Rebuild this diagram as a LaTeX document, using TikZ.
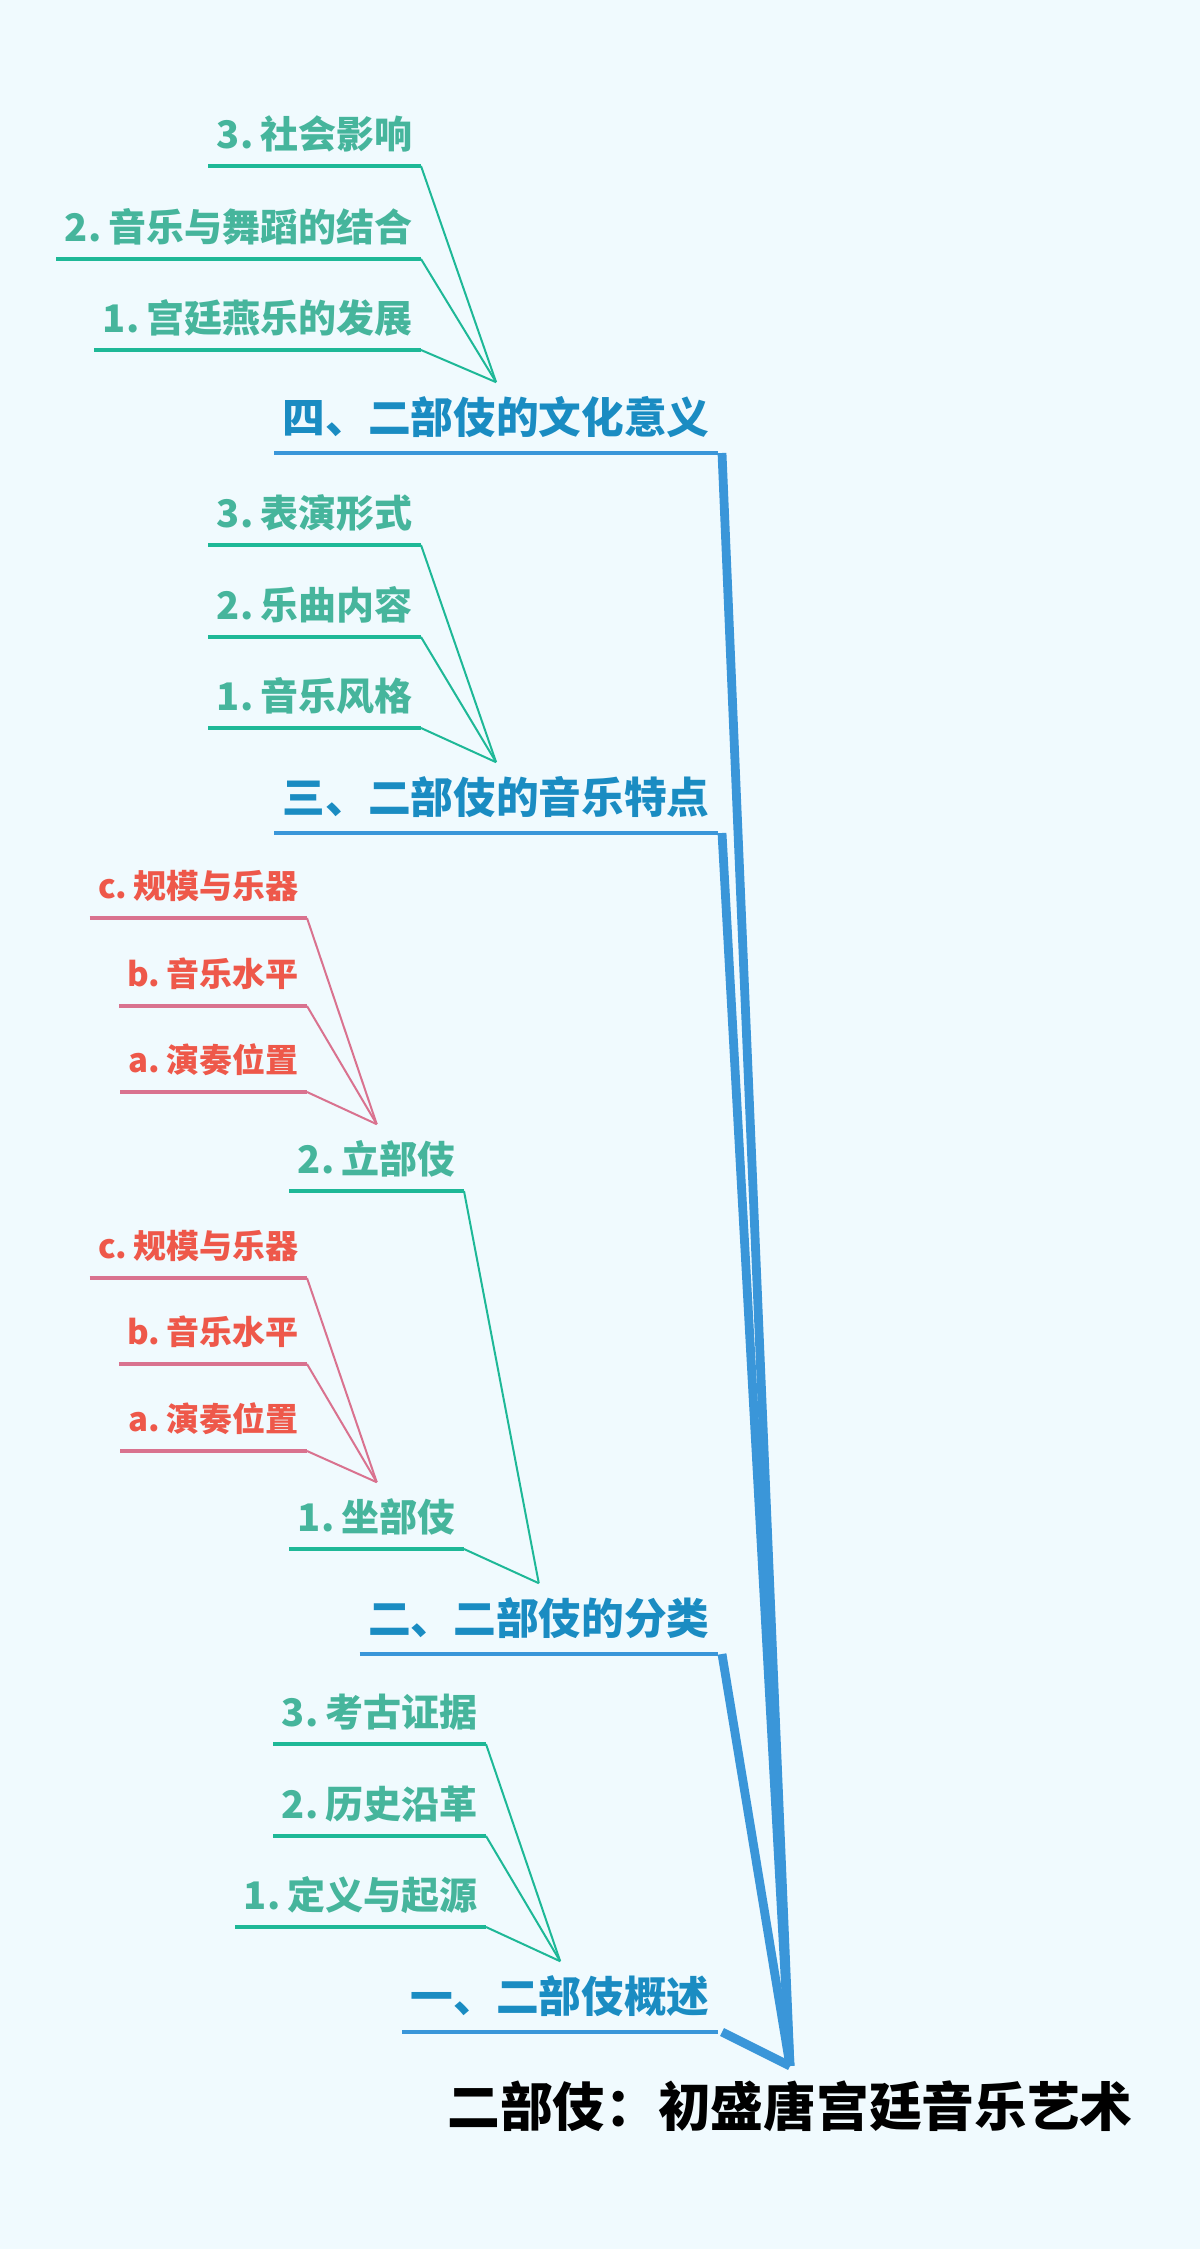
\documentclass[tikz,border=0pt]{standalone}
\usepackage{fontspec}
\setmainfont{Noto Sans CJK SC}[WordSpace=0.5]
\newfontfamily\heavycjk{Noto Sans CJK SC Black}
\definecolor{bgblue}{HTML}{F0FAFE}
\definecolor{topblue}{HTML}{1A8CC2}
\definecolor{lineblue}{HTML}{3A96D9}
\definecolor{subtext}{HTML}{46B59C}
\definecolor{subline}{HTML}{1EB897}
\definecolor{leaftext}{HTML}{EE584A}
\definecolor{leafline}{HTML}{D9728F}
\begin{document}
\begin{tikzpicture}[x=0.5pt,y=0.5pt]
    \tikzstyle{every node}+=[inner xsep=4pt, text depth=0pt, anchor=south east]
    \tikzstyle{lvlone}=[text=topblue, font=\bfseries\fontsize{21.35pt}{25pt}\selectfont, text height=16pt, inner ysep=9.5pt]
    \tikzstyle{lvltwo}=[text=subtext, font=\bfseries\fontsize{19pt}{23pt}\selectfont, text height=15.5pt, inner ysep=8.75pt]
    \tikzstyle{lvlthree}=[text=leaftext, font=\bfseries\fontsize{16.5pt}{20pt}\selectfont, text height=13pt, inner ysep=9.5pt]
    \tikzstyle{bluebar}=[lineblue, line width=2.2pt]
    \tikzstyle{trunk}=[lineblue, line width=4.4pt]
    \tikzstyle{subbar}=[subline, line width=2.2pt]
    \tikzstyle{sublink}=[subline, line width=1pt]
    \tikzstyle{leafbar}=[leafline, line width=2.2pt]
    \tikzstyle{leaflink}=[leafline, line width=1pt]
    \fill [bgblue] (0,0) rectangle (1200,-2249);
    \useasboundingbox (0,0) rectangle (1200,-2249);
    % root
    \node [anchor=north, inner ysep=9pt, text height=21pt, font=\heavycjk\fontsize{26.35pt}{30pt}\selectfont] (root) at (790,-2066) {二部伎：初盛唐宫廷音乐艺术};
    % main branches
    \node [lvlone] (l4) at (718,-453) {四、二部伎的文化意义};
    \node [lvlone] (l3) at (718,-833) {三、二部伎的音乐特点};
    \node [lvlone] (l2) at (718,-1654) {二、二部伎的分类};
    \node [lvlone] (l1) at (718,-2032) {一、二部伎概述};
    % sub branches
    \node [lvltwo] (s43) at (421,-166) {3. 社会影响};
    \node [lvltwo] (s42) at (421,-259) {2. 音乐与舞蹈的结合};
    \node [lvltwo] (s41) at (421,-350) {1. 宫廷燕乐的发展};
    \node [lvltwo] (s33) at (421,-545) {3. 表演形式};
    \node [lvltwo] (s32) at (421,-637) {2. 乐曲内容};
    \node [lvltwo] (s31) at (421,-728) {1. 音乐风格};
    \node [lvltwo] (s22) at (464,-1191) {2. 立部伎};
    \node [lvltwo] (s21) at (464,-1549) {1. 坐部伎};
    \node [lvltwo] (s13) at (486,-1744) {3. 考古证据};
    \node [lvltwo] (s12) at (486,-1836) {2. 历史沿革};
    \node [lvltwo] (s11) at (486,-1927) {1. 定义与起源};
    % leaves
    \node [lvlthree] (t2c) at (307,-918) {c. 规模与乐器};
    \node [lvlthree] (t2b) at (307,-1006) {b. 音乐水平};
    \node [lvlthree] (t2a) at (307,-1092) {a. 演奏位置};
    \node [lvlthree] (t1c) at (307,-1278) {c. 规模与乐器};
    \node [lvlthree] (t1b) at (307,-1364) {b. 音乐水平};
    \node [lvlthree] (t1a) at (307,-1451) {a. 演奏位置};
    % trunks
    \foreach \n in {l4,l3,l2,l1}
        \draw [trunk] ([xshift=2pt]\n.south east) -- (root.north);
    \foreach \n in {l4,l3,l2,l1}
        \draw [bluebar] (\n.south west) -- (\n.south east);
    % sub links
    \foreach \n in {s43,s42,s41}
        \draw [sublink] (\n.south east) -- (l4.north);
    \foreach \n in {s33,s32,s31}
        \draw [sublink] (\n.south east) -- (l3.north);
    \foreach \n in {s22,s21}
        \draw [sublink] (\n.south east) -- (l2.north);
    \foreach \n in {s13,s12,s11}
        \draw [sublink] (\n.south east) -- (l1.north);
    \foreach \n in {s43,s42,s41,s33,s32,s31,s22,s21,s13,s12,s11}
        \draw [subbar] (\n.south west) -- (\n.south east);
    % leaf links
    \foreach \n in {t2c,t2b,t2a}
        \draw [leaflink] (\n.south east) -- (s22.north);
    \foreach \n in {t1c,t1b,t1a}
        \draw [leaflink] (\n.south east) -- (s21.north);
    \foreach \n in {t2c,t2b,t2a,t1c,t1b,t1a}
        \draw [leafbar] (\n.south west) -- (\n.south east);
\end{tikzpicture}
\end{document}
